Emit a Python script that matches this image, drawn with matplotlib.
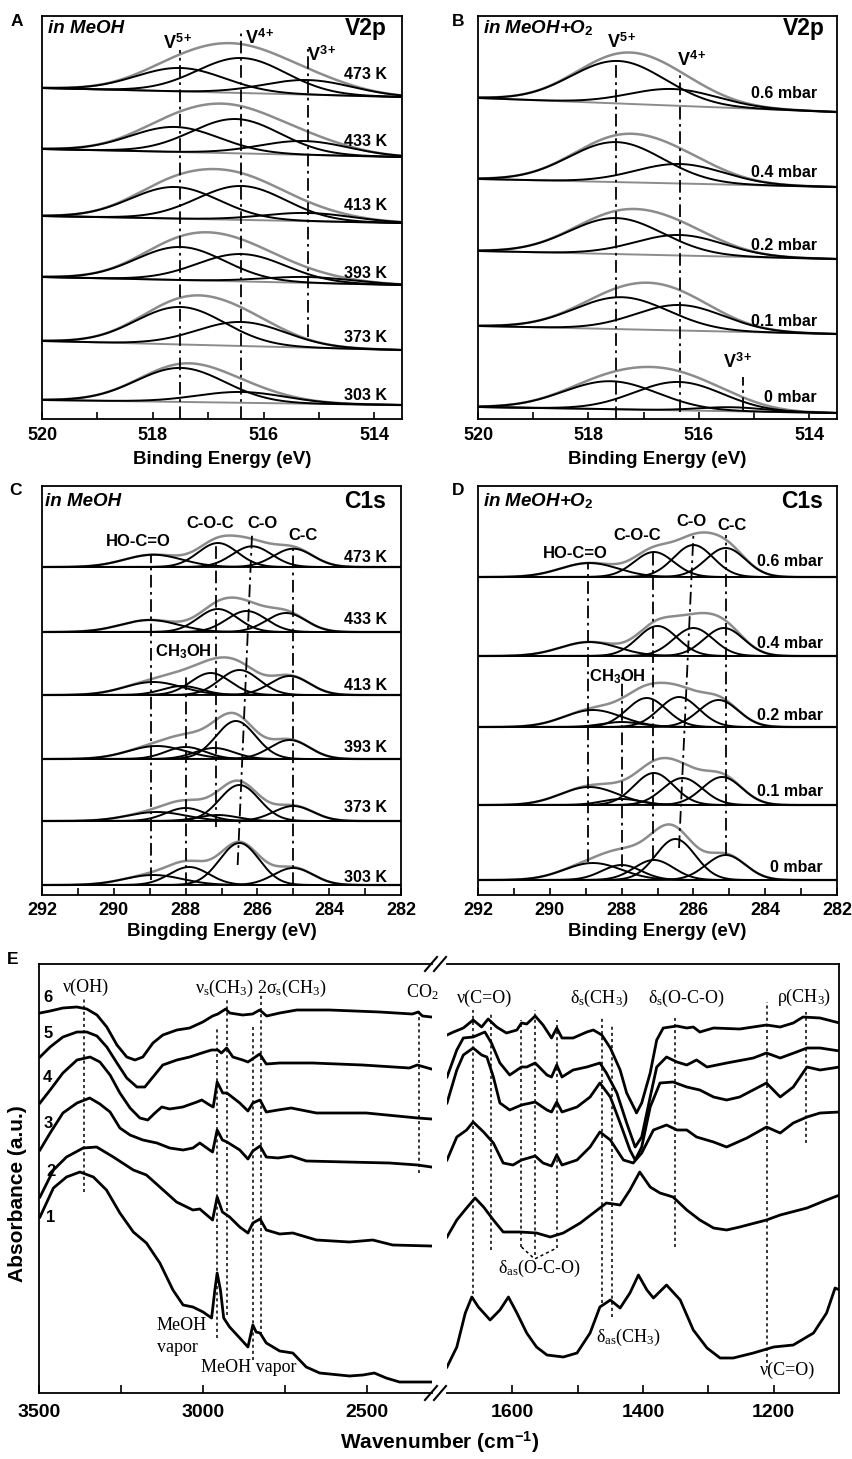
import numpy as np
import matplotlib.pyplot as plt

plt.rcParams['font.family'] = ['Liberation Sans', 'DejaVu Sans']
plt.rcParams['mathtext.fontset'] = 'custom'
plt.rcParams['mathtext.rm'] = 'Liberation Serif'
plt.rcParams['mathtext.it'] = 'Liberation Serif:italic'
plt.rcParams['mathtext.bf'] = 'Liberation Sans:bold'

W, H = 852, 1459
GREY = '#8c8c8c'
DASHDOT = (0, (7, 2.5, 1.5, 2.5))
DOTTED = (0, (2, 2))

# ---------- A: V2p in MeOH ----------
# background (at 520 eV, at 513.5 eV) and fitted peaks (centre eV, height)
a_labels = ['473 K', '433 K', '413 K', '393 K', '373 K', '303 K']
a_bg = [(331, 322), (270, 262), (203, 196), (142, 134), (78, 69), (19, 14)]
a_v5 = [(517.5, 23.5), (517.6, 25), (517.6, 31.6), (517.5, 33.1), (517.5, 37.5), (517.5, 34)]
a_v4 = [(516.4, 35), (516.5, 34.3), (516.4, 33.9), (516.4, 27.4), (516.4, 24), (516.4, 10.8)]
a_v3 = [(515.2, 14.6), (515.27, 13.8), (515.2, 8.2), (515.2, 5.9), (515.2, 0), (515.2, 0)]

# ---------- B: V2p in MeOH+O2 ----------
b_labels = ['0.6 mbar', '0.4 mbar', '0.2 mbar', '0.1 mbar', '0 mbar']
b_bg = [(321, 307), (240, 232), (168, 160), (93, 85), (12, 6)]
b_v5 = [(517.46, 42.5), (517.5, 40), (517.5, 36), (517.4, 32), (517.6, 28)]
b_v4 = [(516.46, 16.6), (516.35, 19.5), (516.35, 20.5), (516.35, 25.5), (516.37, 28.4)]
b_v3 = [(515.4, 0), (515.4, 0), (515.4, 0), (515.4, 0), (515.4, 4)]

# ---------- C: C1s in MeOH ----------
c_labels = ['473 K', '433 K', '413 K', '393 K', '373 K', '303 K']
c_base = [328, 263, 200, 136, 74, 10]
c_hocoo = [(288.9, 12.3), (289.0, 12), (288.9, 13), (288.8, 13), (288.8, 9), (288.9, 10)]
c_ch3oh = [(288.0, 0), (288.0, 0), (288.1, 9), (288.0, 12), (288.0, 13), (287.9, 18)]
c_coc = [(287.1, 24), (287.1, 23), (287.3, 22), (287.2, 11), (287.1, 6), (287.1, 0)]
c_co = [(286.15, 20.7), (286.3, 21), (286.5, 25), (286.6, 38), (286.5, 36), (286.5, 42)]
c_cc = [(285.0, 18.3), (285.2, 19), (285.1, 19), (285.1, 19), (285.0, 15), (285.0, 17)]

# ---------- D: C1s in MeOH+O2 ----------
d_labels = ['0.6 mbar', '0.4 mbar', '0.2 mbar', '0.1 mbar', '0 mbar']
d_base = [318, 239, 168, 90, 15]
d_hocoo = [(288.9, 14), (288.9, 14), (288.8, 17), (288.9, 18), (288.8, 17)]
d_ch3oh = [(288.0, 0), (288.0, 0), (288.0, 5), (288.0, 6), (288.0, 15)]
d_coc = [(287.1, 25), (287.0, 30), (287.3, 29), (287.1, 32), (287.1, 20)]
d_co = [(286.0, 32), (286.0, 28), (286.4, 30), (286.3, 27), (286.5, 41)]
d_cc = [(285.1, 29), (285.15, 28), (285.3, 27), (285.2, 28), (285.1, 25)]

# ---------- E: DRIFTS spectra (wavenumber, absorbance a.u.), curves 1..6 ----------
ir6_high = [(3497, 380), (3466, 382), (3427, 385), (3384, 386), (3354, 384), (3323, 378), (3293, 366),
            (3262, 348), (3232, 336), (3207, 333), (3183, 336), (3152, 350), (3122, 358), (3079, 363),
            (3040, 365), (3000, 371), (2970, 377), (2954, 379), (2930, 384), (2918, 380), (2878, 378),
            (2848, 379), (2826, 383), (2805, 377), (2765, 380), (2713, 383), (2613, 383), (2460, 381),
            (2360, 379), (2342, 381), (2329, 377), (2302, 376)]
ir5_high = [(3497, 336), (3466, 346), (3427, 356), (3384, 361), (3354, 361), (3323, 357), (3293, 346),
            (3262, 330), (3232, 315), (3201, 306), (3177, 306), (3152, 316), (3122, 328), (3079, 333),
            (3040, 336), (3003, 340), (2973, 343), (2954, 343), (2943, 340), (2927, 345), (2908, 336),
            (2878, 333), (2862, 331), (2826, 339), (2806, 329), (2765, 330), (2665, 330), (2512, 328),
            (2369, 325), (2345, 328), (2302, 324)]
ir4_high = [(3497, 290), (3466, 303), (3427, 320), (3384, 333), (3344, 336), (3314, 331), (3283, 318),
            (3253, 300), (3222, 285), (3192, 275), (3168, 273), (3146, 280), (3125, 286), (3101, 284),
            (3061, 286), (3018, 291), (3003, 293), (2979, 288), (2968, 286), (2956, 311), (2939, 300),
            (2926, 300), (2887, 290), (2862, 282), (2847, 290), (2825, 293), (2806, 281), (2770, 283),
            (2730, 285), (2653, 280), (2501, 280), (2344, 275), (2302, 274)]
ir3_high = [(3497, 243), (3466, 260), (3427, 280), (3384, 290), (3345, 295), (3314, 289), (3283, 281),
            (3253, 265), (3222, 258), (3183, 253), (3140, 250), (3101, 245), (3060, 243), (3030, 245),
            (3009, 250), (2979, 243), (2970, 241), (2956, 263), (2940, 253), (2926, 251), (2887, 243),
            (2862, 234), (2847, 242), (2825, 247), (2806, 236), (2770, 235), (2730, 237), (2684, 232),
            (2560, 231), (2430, 230), (2344, 228), (2302, 226)]
ir2_high = [(3497, 196), (3456, 223), (3416, 236), (3365, 245), (3324, 246), (3273, 236), (3212, 223),
            (3172, 218), (3131, 206), (3080, 191), (3030, 183), (3009, 184), (2970, 173), (2956, 196),
            (2940, 181), (2918, 176), (2887, 166), (2862, 160), (2847, 170), (2825, 174), (2806, 163),
            (2765, 159), (2725, 160), (2653, 153), (2552, 151), (2481, 153), (2420, 148), (2303, 147)]
ir1_high = [(3497, 176), (3456, 205), (3416, 216), (3375, 221), (3334, 216), (3294, 203), (3253, 180),
            (3212, 161), (3172, 150), (3131, 130), (3091, 103), (3060, 88), (3030, 86), (2999, 81),
            (2973, 75), (2963, 103), (2956, 120), (2946, 103), (2936, 75), (2918, 66), (2887, 55),
            (2862, 46), (2847, 68), (2837, 61), (2825, 60), (2806, 50), (2765, 42), (2725, 40),
            (2684, 26), (2643, 20), (2552, 17), (2511, 18), (2476, 20), (2440, 15), (2399, 11), (2303, 11)]

ir6_low = [(1700, 358), (1690, 361), (1675, 365), (1660, 373), (1647, 366), (1637, 374), (1624, 366),
           (1609, 360), (1593, 363), (1586, 370), (1578, 369), (1565, 377), (1553, 368), (1540, 355),
           (1532, 365), (1524, 355), (1507, 355), (1486, 361), (1476, 363), (1463, 358), (1450, 345),
           (1435, 323), (1425, 300), (1412, 283), (1410, 280), (1402, 290), (1389, 320), (1379, 353),
           (1369, 365), (1348, 367), (1333, 365), (1323, 366), (1313, 361), (1292, 365), (1252, 364),
           (1211, 368), (1190, 366), (1170, 370), (1155, 376), (1129, 375), (1099, 370)]
ir5_low = [(1700, 316), (1685, 343), (1675, 355), (1660, 356), (1642, 361), (1632, 350), (1619, 330),
           (1604, 318), (1586, 326), (1578, 326), (1565, 330), (1547, 318), (1540, 316), (1532, 328),
           (1524, 316), (1507, 323), (1486, 326), (1466, 330), (1456, 320), (1440, 300), (1425, 270),
           (1412, 246), (1402, 256), (1389, 296), (1379, 326), (1364, 336), (1348, 331), (1333, 328),
           (1318, 333), (1302, 326), (1272, 330), (1231, 335), (1211, 340), (1190, 335), (1165, 341),
           (1149, 345), (1129, 345), (1099, 342)]
ir4_low = [(1700, 290), (1685, 323), (1675, 338), (1660, 345), (1647, 338), (1639, 336), (1629, 316),
           (1619, 290), (1604, 283), (1586, 288), (1565, 291), (1547, 283), (1540, 281), (1532, 291),
           (1524, 281), (1501, 286), (1481, 296), (1466, 310), (1450, 296), (1435, 270), (1420, 243),
           (1412, 233), (1402, 246), (1389, 286), (1374, 310), (1354, 311), (1333, 306), (1313, 303),
           (1292, 296), (1272, 293), (1252, 296), (1211, 310), (1190, 296), (1170, 306), (1149, 326),
           (1129, 323), (1099, 326)]
ir3_low = [(1700, 233), (1685, 256), (1670, 263), (1660, 271), (1644, 261), (1629, 250), (1614, 230),
           (1599, 228), (1586, 233), (1565, 237), (1553, 230), (1540, 227), (1532, 238), (1524, 228),
           (1501, 233), (1481, 246), (1466, 261), (1450, 253), (1430, 233), (1415, 230), (1402, 240),
           (1384, 263), (1364, 268), (1348, 263), (1333, 263), (1318, 256), (1292, 251), (1272, 246),
           (1241, 255), (1211, 266), (1190, 260), (1170, 270), (1149, 276), (1129, 280), (1099, 281)]
ir2_low = [(1700, 156), (1685, 173), (1670, 185), (1657, 195), (1644, 186), (1629, 173), (1614, 161),
           (1588, 161), (1563, 160), (1542, 156), (1522, 160), (1496, 170), (1476, 180), (1456, 190),
           (1435, 188), (1420, 203), (1405, 221), (1389, 206), (1374, 200), (1354, 196), (1333, 183),
           (1313, 173), (1292, 165), (1272, 163), (1252, 166), (1211, 173), (1190, 178), (1149, 185),
           (1119, 193), (1099, 198)]
ir1_low = [(1700, 26), (1685, 46), (1672, 80), (1662, 96), (1652, 86), (1634, 73), (1619, 83),
           (1606, 96), (1593, 80), (1578, 60), (1563, 46), (1547, 38), (1522, 36), (1501, 40),
           (1481, 60), (1466, 86), (1450, 93), (1435, 85), (1420, 100), (1407, 118), (1394, 103),
           (1384, 95), (1364, 108), (1343, 93), (1323, 63), (1302, 45), (1282, 35), (1262, 35),
           (1231, 40), (1200, 46), (1170, 48), (1139, 60), (1119, 80), (1106, 105), (1099, 103)]

fig = plt.figure(figsize=(W / 100, H / 100), dpi=100)


def px_axes(l, t, r, b):
    return fig.add_axes([l / W, 1 - b / H, (r - l) / W, (b - t) / H])


def ftext(x, y, s, **kw):
    fig.text(x / W, 1 - y / H, s, **kw)


def style_axes(ax, major, minor, size=13, pad=5, length=5):
    ax.set_xticks(major)
    ax.set_xticks(minor, minor=True)
    ax.set_yticks([])
    ax.tick_params(axis='x', which='both', direction='in', length=length, width=1.2,
                   pad=pad, labelsize=size)
    for lab in ax.get_xticklabels():
        lab.set_fontweight('bold')
    for sp in ax.spines.values():
        sp.set_linewidth(1.3)


def draw_xps(ax, x0, x1, bgs, comps, sigmas):
    x = np.linspace(x0, x1, 500)
    for i, (bl, br) in enumerate(bgs):
        bg = bl + (br - bl) * (x0 - x) / (x0 - x1)
        env = bg.copy()
        curves = []
        for comp, sig in zip(comps, sigmas):
            c, h = comp[i]
            if h <= 0:
                continue
            g = h * np.exp(-(x - c) ** 2 / (2 * sig ** 2))
            env = env + g
            curves.append(bg + g)
        ax.plot(x, bg, color=GREY, lw=1.4, zorder=2)
        ax.plot(x, env, color=GREY, lw=1.8, zorder=2)
        for cv in curves:
            ax.plot(x, cv, color='black', lw=1.4, zorder=3)


def vline(ax, x, y0, y1, ls=DASHDOT, lw=1.3):
    ax.plot([x, x], [y0, y1], color='black', lw=lw, ls=ls, zorder=4)


bold = dict(fontweight='bold')

# ----- panel A -----
axA = px_axes(42, 16, 402, 419)
draw_xps(axA, 520, 513.5, a_bg, [a_v5, a_v4, a_v3], [0.8, 0.8, 0.8])
axA.set_xlim(520, 513.5)
axA.set_ylim(0, 403)
style_axes(axA, [520, 518, 516, 514], [519, 517, 515], pad=6)
vline(axA, 517.5, 0, 369)
vline(axA, 516.4, 0, 387)
vline(axA, 515.2, 82, 374)
for lab, y in zip(a_labels, [345, 278, 214, 146, 81, 24]):
    axA.text(513.77, y, lab, ha='right', va='center', fontsize=11.5, **bold)
axA.text(517.55, 376, 'V$^{\\mathbf{5+}}$', ha='center', va='center', fontsize=13, **bold)
axA.text(516.07, 381, 'V$^{\\mathbf{4+}}$', ha='center', va='center', fontsize=13, **bold)
axA.text(514.95, 364, 'V$^{\\mathbf{3+}}$', ha='center', va='center', fontsize=13, **bold)
axA.text(0.017, 0.97, 'in MeOH', transform=axA.transAxes, ha='left', va='center',
         fontsize=13.5, fontstyle='italic', **bold)
axA.text(0.958, 0.968, 'V2p', transform=axA.transAxes, ha='right', va='center', fontsize=16.5, **bold)

# ----- panel B -----
axB = px_axes(478, 16, 837, 419)
draw_xps(axB, 520, 513.5, b_bg, [b_v5, b_v4, b_v3], [0.85, 0.8, 0.6])
axB.set_xlim(520, 513.5)
axB.set_ylim(0, 403)
style_axes(axB, [520, 518, 516, 514], [519, 517, 515], pad=6)
vline(axB, 517.5, 0, 356)
vline(axB, 516.35, 7, 347)
vline(axB, 515.2, 9, 42)
for lab, y in zip(b_labels, [326, 247, 173, 97, 21]):
    axB.text(513.86, y, lab, ha='right', va='center', fontsize=11.5, **bold)
axB.text(517.39, 377, 'V$^{\\mathbf{5+}}$', ha='center', va='center', fontsize=13, **bold)
axB.text(516.12, 359, 'V$^{\\mathbf{4+}}$', ha='center', va='center', fontsize=13, **bold)
axB.text(515.29, 57, 'V$^{\\mathbf{3+}}$', ha='center', va='center', fontsize=13, **bold)
axB.text(0.014, 0.97, 'in MeOH+O$_{\\mathbf{2}}$', transform=axB.transAxes, ha='left', va='center',
         fontsize=13.5, fontstyle='italic', **bold)
axB.text(0.966, 0.968, 'V2p', transform=axB.transAxes, ha='right', va='center', fontsize=16.5, **bold)

# ----- panel C -----
axC = px_axes(42, 486, 401, 895)
draw_xps(axC, 292, 282, [(b, b) for b in c_base], [c_hocoo, c_ch3oh, c_coc, c_co, c_cc],
         [0.8, 0.55, 0.55, 0.55, 0.55])
axC.set_xlim(292, 282)
axC.set_ylim(0, 409)
style_axes(axC, [292, 290, 288, 286, 284, 282], [291, 289, 287, 285, 283], pad=5)
vline(axC, 288.95, 15, 340)
vline(axC, 288.0, 10, 222)
vline(axC, 287.15, 68, 353)
axC.plot([286.55, 286.15], [30, 360], color='black', lw=1.3, ls=DASHDOT, zorder=4)
vline(axC, 285.0, 10, 347)
for lab, y in zip(c_labels, [337, 275, 210, 147, 87, 18]):
    axC.text(282.4, y, lab, ha='right', va='center', fontsize=11.5, **bold)
for s, x, y in [('HO-C=O', 289.33, 353), ('C-O-C', 287.32, 371), ('C-O', 285.87, 372),
                ('C-C', 284.73, 359), ('CH$_{\\mathbf{3}}$OH', 288.07, 243)]:
    axC.text(x, y, s, ha='center', va='center', fontsize=12, **bold)
axC.text(0.008, 0.963, 'in MeOH', transform=axC.transAxes, ha='left', va='center',
         fontsize=13.5, fontstyle='italic', **bold)
axC.text(0.958, 0.963, 'C1s', transform=axC.transAxes, ha='right', va='center', fontsize=16.5, **bold)

# ----- panel D -----
axD = px_axes(478, 486, 837, 895)
draw_xps(axD, 292, 282, [(b, b) for b in d_base], [d_hocoo, d_ch3oh, d_coc, d_co, d_cc],
         [0.8, 0.55, 0.55, 0.55, 0.55])
axD.set_xlim(292, 282)
axD.set_ylim(0, 409)
style_axes(axD, [292, 290, 288, 286, 284, 282], [291, 289, 287, 285, 283], pad=5)
vline(axD, 288.94, 33, 333)
vline(axD, 288.0, 28, 218)
vline(axD, 287.13, 37, 345)
axD.plot([286.4, 286.0], [47, 360], color='black', lw=1.3, ls=DASHDOT, zorder=4)
vline(axD, 285.1, 40, 360)
for lab, y in zip(d_labels, [333, 252, 179, 104, 28]):
    axD.text(282.39, y, lab, ha='right', va='center', fontsize=11.5, **bold)
for s, x, y in [('HO-C=O', 289.30, 342), ('C-O-C', 287.57, 360), ('C-O', 286.04, 373),
                ('C-C', 284.92, 370), ('CH$_{\\mathbf{3}}$OH', 288.13, 218)]:
    axD.text(x, y, s, ha='center', va='center', fontsize=12, **bold)
axD.text(0.014, 0.963, 'in MeOH+O$_{\\mathbf{2}}$', transform=axD.transAxes, ha='left', va='center',
         fontsize=13.5, fontstyle='italic', **bold)
axD.text(0.962, 0.963, 'C1s', transform=axD.transAxes, ha='right', va='center', fontsize=16.5, **bold)

# x labels of XPS panels
ftext(222, 460, 'Binding Energy (eV)', ha='center', va='center', fontsize=13.5, **bold)
ftext(657, 460, 'Binding Energy (eV)', ha='center', va='center', fontsize=13.5, **bold)
ftext(222, 932, 'Bingding Energy (eV)', ha='center', va='center', fontsize=13.5, **bold)
ftext(657, 932, 'Binding Energy (eV)', ha='center', va='center', fontsize=13.5, **bold)

# ----- panel E (broken axis) -----
axE1 = px_axes(39, 964, 432, 1393)
axE2 = px_axes(447, 964, 839, 1393)
for curve in [ir1_high, ir2_high, ir3_high, ir4_high, ir5_high, ir6_high]:
    wn, ab = zip(*curve)
    axE1.plot(wn, ab, color='black', lw=2.0)
for curve in [ir1_low, ir2_low, ir3_low, ir4_low, ir5_low, ir6_low]:
    wn, ab = zip(*curve)
    axE2.plot(wn, ab, color='black', lw=2.0)
axE1.set_xlim(3500, 2300)
axE2.set_xlim(1700, 1100)
for ax in (axE1, axE2):
    ax.set_ylim(0, 429)
style_axes(axE1, [3500, 3000, 2500], [3250, 2750], size=14, pad=8, length=6)
style_axes(axE2, [1600, 1400, 1200], [1500, 1300], size=14, pad=8, length=6)
axE1.spines['right'].set_visible(False)
axE2.spines['left'].set_visible(False)
for yb in (964, 1393):
    for dx in (0, 9):
        fig.add_artist(plt.Line2D([(425 + dx) / W, (437 + dx) / W],
                                  [1 - (yb + 7) / H, 1 - (yb - 7) / H], color='black', lw=1.5))

for x, y0, y1 in [(3363, 201, 396), (2957, 55, 366), (2927, 78, 395), (2847, 33, 366),
                  (2823, 58, 398), (2341, 220, 383)]:
    vline(axE1, x, y0, y1, ls=DOTTED, lw=1.1)
for x, y0, y1 in [(1660, 93, 383), (1633, 143, 381), (1586, 146, 373), (1566, 138, 383),
                  (1532, 145, 373), (1462, 90, 375), (1448, 76, 368), (1351, 146, 375),
                  (1210, 30, 391), (1150, 250, 381)]:
    vline(axE2, x, y0, y1, ls=DOTTED, lw=1.1)
axE2.plot([1586, 1566, 1532], [146, 134, 145], color='black', lw=1.1, ls=DOTTED)

serif = dict(family='Liberation Serif', fontsize=13, ha='center', va='center')
axE1.text(3357, 406, 'ν(OH)', **serif)
axE1.text(2933, 405, '$\\mathrm{\\nu_s}$(CH$_3$)', **serif)
axE1.text(2729, 405, '2$\\mathrm{\\sigma_s}$(CH$_3$)', **serif)
axE1.text(2329, 401, 'CO$_2$', **serif)
axE1.text(3140, 68, 'MeOH', family='Liberation Serif', fontsize=13, ha='left', va='center')
axE1.text(3140, 45, 'vapor', family='Liberation Serif', fontsize=13, ha='left', va='center')
axE1.text(2860, 26, 'MeOH vapor', **serif)
axE2.text(1643, 395, 'ν(C=O)', **serif)
axE2.text(1467, 395, '$\\mathrm{\\delta_s}$(CH$_3$)', **serif)
axE2.text(1334, 395, '$\\mathrm{\\delta_s}$(O-C-O)', **serif)
axE2.text(1154, 396, '$\\mathrm{\\rho}$(CH$_3$)', **serif)
axE2.text(1558, 125, '$\\mathrm{\\delta_{as}}$(O-C-O)', **serif)
axE2.text(1423, 56, '$\\mathrm{\\delta_{as}}$(CH$_3$)', **serif)
axE2.text(1179, 23, 'ν(C=O)', **serif)

for num, x, y in [('6', 3473, 396), ('5', 3473, 359), ('4', 3473, 315), ('3', 3473, 269),
                  ('2', 3463, 221), ('1', 3463, 176)]:
    axE1.text(x, y, num, ha='center', va='center', fontsize=12, **bold)

ftext(440, 1442, 'Wavenumber (cm$^{\\mathbf{-1}}$)', ha='center', va='center', fontsize=15, **bold)
ftext(18, 1194, 'Absorbance (a.u.)', ha='center', va='center', rotation=90, fontsize=15, **bold)

# panel letters
for s, x, y in [('A', 17, 22), ('B', 458, 22), ('C', 15, 490), ('D', 458, 490), ('E', 13, 960)]:
    ftext(x, y, s, ha='center', va='center', fontsize=12.5, **bold)

fig.savefig('out.png', dpi=100)
